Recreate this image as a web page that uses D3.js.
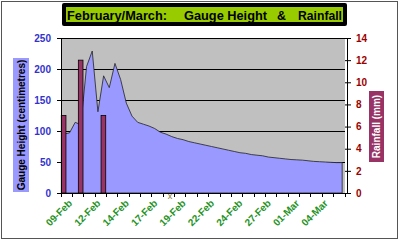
<!DOCTYPE html>
<html>
<head>
<meta charset="utf-8">
<script src="https://cdn.jsdelivr.net/npm/d3@7"></script>
<style>
  body { margin: 0; background: #fff; }
  svg text { font-family: 'Liberation Sans', Arial, sans-serif; }
</style>
</head>
<body>
<div id="chart"></div>
<script>
// gauge height (cm), two readings a day from 09-Feb
const gaugeHeight = [95, 97, 114, 110, 204, 229, 131, 189, 170, 209,
                     183, 145, 124, 114, 111, 108, 104, 98, 95, 91,
                     88, 86, 83, 81, 79, 77, 75, 73, 71, 69,
                     67, 65, 64, 62, 61, 60, 58, 57, 56, 55,
                     54, 53.5, 53, 52, 51, 50.5, 50, 49.5, 49, 49]
// rainfall (mm) per reading
const rainfall = [7, 0, 0, 12, 0, 0, 0, 7, 0, 0,
                  0, 0, 0, 0, 0, 0, 0, 0, 0, 0,
                  0, 0, 0, 0, 0, 0, 0, 0, 0, 0,
                  0, 0, 0, 0, 0, 0, 0, 0, 0, 0,
                  0, 0, 0, 0, 0, 0, 0, 0, 0, 0]
const dateLabels = ['09-Feb', '12-Feb', '14-Feb', '17-Feb', '19-Feb', '22-Feb', '24-Feb', '27-Feb', '01-Mar', '04-Mar']
const gaugeTicks = [0, 50, 100, 150, 200, 250]
const rainTicks = [0, 2, 4, 6, 8, 10, 12, 14]

const w = 400;
const h = 243;
const plotLeft = 61;
const plotRight = 345;
const plotTop = 38;
const plotBottom = 193;

const svg = d3.select('#chart')
              .append('svg')
              .attr('width', w)
              .attr('height', h);

// frame
svg.append('rect')
   .attr('x', 1.5).attr('y', 1.5)
   .attr('width', 396).attr('height', 237)
   .attr('fill', '#fff')
   .attr('stroke', '#555');

// title box
svg.append('rect')
   .attr('x', 62).attr('y', 3)
   .attr('width', 285).attr('height', 23)
   .attr('rx', 2)
   .attr('fill', '#000');
svg.append('rect')
   .attr('x', 66).attr('y', 7)
   .attr('width', 277).attr('height', 15)
   .attr('fill', '#99cc00');

// [text, x, width]
const titleParts = [['February/March:', 67, 100], ['Gauge Height', 184, 83], ['&', 277, 9], ['Rainfall', 298, 44]]
titleParts.forEach(p => {
    svg.append('text')
       .attr('x', p[1]).attr('y', 19.5)
       .attr('font-size', 13)
       .attr('font-weight', 'bold')
       .attr('fill', '#000')
       .attr('textLength', p[2])
       .attr('lengthAdjust', 'spacingAndGlyphs')
       .text(p[0]);
});

// scales
const xBand = d3.scaleBand()
                .domain(d3.range(gaugeHeight.length))
                .range([plotLeft, plotRight]);
const bw = xBand.bandwidth();

const yGauge = d3.scaleLinear().domain([0, 250]).range([plotBottom, plotTop]);
const yRain = d3.scaleLinear().domain([0, 14]).range([plotBottom, plotTop]);

// plot area
svg.append('rect')
   .attr('x', plotLeft).attr('y', plotTop)
   .attr('width', plotRight - plotLeft).attr('height', plotBottom - plotTop)
   .attr('fill', '#c0c0c0');

svg.append('g')
   .selectAll('line')
   .data(gaugeTicks.filter(d => d > 0))
   .enter()
   .append('line')
   .attr('x1', plotLeft).attr('x2', plotRight)
   .attr('y1', d => Math.round(yGauge(d)) + 0.5).attr('y2', d => Math.round(yGauge(d)) + 0.5)
   .attr('stroke', '#000')
   .attr('stroke-width', 1);

// gauge area
const area = d3.area()
               .x((d, i) => xBand(i) + bw / 2)
               .y0(yGauge(0))
               .y1(d => yGauge(d));

svg.append('path')
   .datum(gaugeHeight)
   .attr('d', area)
   .attr('fill', '#9999ff')
   .attr('stroke', '#222')
   .attr('stroke-width', 0.8);

// rainfall columns
svg.append('g')
   .selectAll('rect')
   .data(rainfall.map((v, i) => ({ v: v, i: i })).filter(d => d.v > 0))
   .enter()
   .append('rect')
   .attr('x', d => xBand(d.i) + 0.3)
   .attr('y', d => yRain(d.v))
   .attr('width', bw * 0.82)
   .attr('height', d => yRain(0) - yRain(d.v))
   .attr('fill', '#993366')
   .attr('stroke', '#000')
   .attr('stroke-width', 0.8);

// left axis
const leftAxis = svg.append('g')
                    .attr('transform', `translate(${plotLeft}, 0)`)
                    .call(d3.axisLeft(yGauge).tickValues(gaugeTicks).tickSize(4).tickPadding(6));
leftAxis.selectAll('text')
        .attr('font-size', 10)
        .attr('font-weight', 'bold')
        .attr('fill', '#3333cc')
        .attr('font-family', null);

// right axis
const rightAxis = svg.append('g')
                     .attr('transform', `translate(${plotRight + 2}, 0)`)
                     .call(d3.axisRight(yRain).tickValues(rainTicks).tickSize(4).tickPadding(5));
rightAxis.selectAll('line').attr('x1', -2);
rightAxis.selectAll('text')
         .attr('font-size', 10)
         .attr('font-weight', 'bold')
         .attr('fill', '#990000')
         .attr('font-family', null);

// bottom axis: a tick each day, a label every 5 readings
const dayTicks = d3.range(0, gaugeHeight.length + 1, 2);
svg.append('line')
   .attr('x1', plotLeft).attr('x2', plotRight)
   .attr('y1', plotBottom + 0.5).attr('y2', plotBottom + 0.5)
   .attr('stroke', '#000');
svg.append('g')
   .selectAll('line')
   .data(dayTicks)
   .enter()
   .append('line')
   .attr('x1', d => plotLeft + d * bw).attr('x2', d => plotLeft + d * bw)
   .attr('y1', plotBottom).attr('y2', plotBottom + 4)
   .attr('stroke', '#000')
   .attr('shape-rendering', 'crispEdges');

svg.append('g')
   .selectAll('text')
   .data(dateLabels)
   .enter()
   .append('text')
   .attr('transform', (d, i) => `translate(${xBand(i * 5) + bw / 2 + 4}, ${plotBottom + 6}) rotate(-45)`)
   .attr('text-anchor', 'end')
   .attr('dy', '0.7em')
   .attr('font-size', 10)
   .attr('font-weight', 'bold')
   .attr('fill', '#1f931f')
   .text(d => d);

svg.append('text')
   .attr('x', 170).attr('y', 199)
   .attr('text-anchor', 'middle')
   .attr('font-size', 9)
   .attr('fill', '#8a7a30')
   .text('x');

// axis titles
svg.append('rect')
   .attr('x', 13).attr('y', 58)
   .attr('width', 16).attr('height', 134)
   .attr('fill', '#9999ff');
svg.append('text')
   .attr('transform', 'translate(25, 125) rotate(-90)')
   .attr('text-anchor', 'middle')
   .attr('font-size', 10)
   .attr('font-weight', 'bold')
   .attr('fill', '#000')
   .text('Gauge Height  (centimetres)');

svg.append('rect')
   .attr('x', 369).attr('y', 91)
   .attr('width', 15).attr('height', 71)
   .attr('fill', '#993366');
svg.append('text')
   .attr('transform', 'translate(380, 126.5) rotate(-90)')
   .attr('text-anchor', 'middle')
   .attr('font-size', 10)
   .attr('font-weight', 'bold')
   .attr('fill', '#fff')
   .text('Rainfall (mm)');
</script>
</body>
</html>
